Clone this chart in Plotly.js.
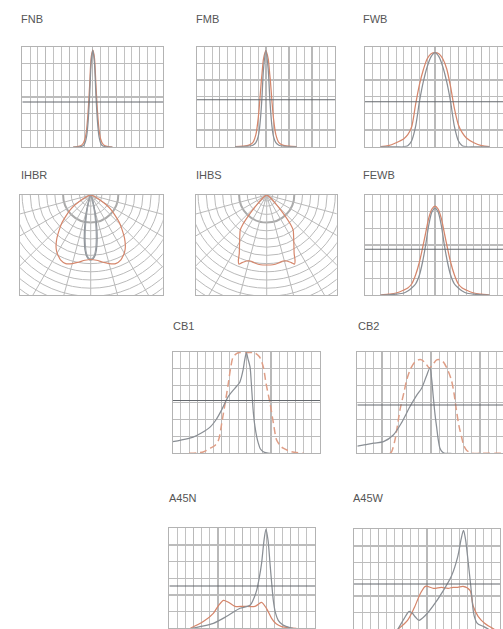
<!DOCTYPE html>
<html><head><meta charset="utf-8">
<script src="https://cdn.plot.ly/plotly-3.0.1.min.js"></script>
<style>html,body{margin:0;padding:0;background:#fff;}#chart{width:503px;height:629px;}</style>
</head><body><div id="chart"></div>
<script>
// ---------- DATA (relative intensity vs angle in degrees) ----------
const panelNames = ["FNB","FMB","FWB","IHBR","IHBS","FEWB","CB1","CB2","A45N","A45W"];

const fnbAngle  = [-25,-20,-15,-12,-10,-8,-6,-4,-2,0,2,4,6,8,10,12,15,20,25];
const fnbGray   = [0,0,0.005,0.015,0.04,0.1,0.25,0.52,0.85,0.97,0.85,0.52,0.25,0.1,0.04,0.015,0.005,0,0];
const fnbOrange = [0,0.004,0.015,0.04,0.08,0.17,0.35,0.62,0.9,0.97,0.9,0.62,0.35,0.17,0.08,0.04,0.015,0.004,0];

const fmbAngle  = [-40,-30,-22,-17,-13,-10,-8,-6,-5,-3,0,3,5,6,8,10,13,17,22,30,40];
const fmbGray   = [0,0,0.005,0.015,0.04,0.1,0.2,0.38,0.5,0.78,0.96,0.78,0.5,0.38,0.2,0.1,0.04,0.015,0.005,0,0];
const fmbOrange = [0,0.005,0.015,0.04,0.12,0.28,0.45,0.65,0.73,0.88,0.96,0.88,0.73,0.65,0.45,0.28,0.12,0.04,0.015,0.005,0];

const fwbAngle  = [-70,-60,-50,-40,-35,-30,-25,-20,-15,-10,-5,0,5,10,15,20,25,30,35,40,50,60,70];
const fwbGray   = [0,0,0,0,0.01,0.06,0.2,0.45,0.65,0.8,0.9,0.94,0.9,0.8,0.65,0.45,0.2,0.06,0.01,0,0,0,0];
const fwbOrange = [0,0.01,0.04,0.08,0.12,0.2,0.42,0.62,0.77,0.88,0.93,0.94,0.93,0.88,0.78,0.6,0.38,0.22,0.14,0.09,0.04,0.01,0];

const fewbAngle  = [-70,-60,-50,-40,-35,-30,-25,-20,-16,-12,-8,-4,0,4,8,12,16,20,25,30,35,40,50,60,70];
const fewbGray   = [0,0.002,0.008,0.02,0.04,0.07,0.11,0.2,0.33,0.5,0.7,0.83,0.87,0.83,0.7,0.5,0.33,0.2,0.11,0.07,0.04,0.02,0.008,0.002,0];
const fewbOrange = [0,0.008,0.02,0.05,0.07,0.11,0.2,0.33,0.47,0.62,0.77,0.86,0.89,0.86,0.77,0.62,0.47,0.33,0.2,0.11,0.07,0.05,0.02,0.008,0];

const cb1GrayAngle   = [-90,-80,-65,-55,-44,-37,-30,-22,-14,-8,-4,-2,0,2,4.5,6,7.7,9,10.6,12.5,14.6,17,20.7,25,29];
const cb1Gray        = [0.115,0.13,0.16,0.2,0.26,0.33,0.43,0.56,0.64,0.7,0.82,0.92,0.99,0.93,0.85,0.7,0.49,0.36,0.26,0.17,0.1,0.045,0.016,0.004,0];
const cb1OrangeAngle = [-70,-60,-52,-44,-38,-34,-30,-26,-22,-19,-16,-10,0,10,16,20.7,24,29,33,37,41,45,55,70];
const cb1Orange      = [0,0.005,0.016,0.05,0.08,0.13,0.3,0.49,0.69,0.85,0.95,0.99,0.99,0.99,0.95,0.85,0.69,0.49,0.3,0.13,0.08,0.05,0.015,0];

const cb2GrayAngle   = [-90,-80,-70,-58,-46,-36,-25.6,-17.5,-11.4,-6,-1.2,1,2.8,5,6.9,9,11,14,17,25];
const cb2Gray        = [0.07,0.085,0.1,0.115,0.18,0.3,0.46,0.57,0.64,0.75,0.84,0.72,0.56,0.38,0.26,0.13,0.05,0.012,0,0];
const cb2OrangeAngle = [-50,-48,-44,-41,-37.8,-33,-29.7,-25,-19.5,-15,-11.4,-6,-2,2,7,11,15,20,25,28,31,34,37.4,40,43.5,50,60,70,80,90];
const cb2Orange      = [0,0.016,0.13,0.27,0.43,0.6,0.72,0.83,0.9,0.92,0.92,0.88,0.84,0.87,0.92,0.92,0.9,0.83,0.72,0.6,0.43,0.28,0.16,0.08,0.03,0,0,0,0,0];

const a45nGrayAngle   = [-62,-52,-35.6,-19,-2.7,9.7,14,17.9,21,24,27,29.4,32,34.4,36.5,38.5,41,44.6,50,55,63];
const a45nGray        = [0,0.017,0.05,0.12,0.2,0.23,0.29,0.38,0.5,0.65,0.88,0.99,0.88,0.65,0.45,0.28,0.16,0.08,0.035,0.017,0];
const a45nOrangeAngle = [-64,-48,-35.6,-29,-23,-17,-8.8,1.4,15.8,20,24,30,36.4,42,48.8,58,67];
const a45nOrange      = [0,0.067,0.15,0.23,0.28,0.26,0.22,0.22,0.22,0.24,0.26,0.2,0.1,0.045,0.017,0.005,0];

const a45wGrayAngle   = [-36,-28,-22,-18,-14,-9.8,-1.9,8,20.3,30,38,42,45,47.5,50,54,58,62,70,76];
const a45wGray        = [0,0.11,0.18,0.16,0.12,0.09,0.14,0.24,0.39,0.53,0.73,0.9,0.99,0.9,0.73,0.43,0.14,0.06,0.027,0];
const a45wOrangeAngle = [-36,-24,-16,-8,-1.9,8,18,26,32,38,44.5,53,57,63,71,83];
const a45wOrange      = [0,0.09,0.21,0.36,0.43,0.41,0.42,0.41,0.42,0.42,0.43,0.39,0.23,0.13,0.06,0];

// polar (angle from nadir in degrees, intensity in diagram units)
const ihbrAngle   = [-90,-80,-75,-70,-66,-62,-58,-54,-50,-46,-42,-38,-34,-31,-28,-25,-20,-15,-10,-5,0,5,10,15,20,25,28,31,34,38,42,46,50,54,58,62,66,70,75,80,90];
const ihbrOrange  = [0,0.4,1.2,3,6,11,18,25.6,32,40,47,55,62,66,69,71.5,73,71,68,65.5,64.5,65.5,68,71,73,71.5,69,66,62,55,47,40,32,25.6,18,11,6,3,1.2,0.4,0];
const ihbrGAngle  = [-90,-40,-30,-25,-20,-17,-14,-12,-10,-8,-6,-4,-2,0,2,4,6,8,10,12,14,17,20,25,30,40,90];
const ihbrGray1   = [0,0.2,0.8,2,5,10,18,26,36,46,55,61,64,65,64,61,55,46,36,26,18,10,5,2,0.8,0.2,0];
const ihbrGray2   = [0,0.1,0.5,1.5,3.5,7,13,20,29,40,51,59,63,64,63,59,51,40,29,20,13,7,3.5,1.5,0.5,0.1,0];

const ihbsAngle   = [-90,-70,-60,-55,-50,-46,-43,-41,-39,-37,-34,-31,-28,-25,-23.5,-22,-20,-17,-14,-10,-5,0,5,10,14,17,20,22,23.5,25,28,31,34,37,39,41,43,46,50,55,60,70,90];
const ihbsOrange  = [0,0.5,1.5,3.5,7,13,21,29,38,44,48,52.5,58,65,71,74.5,72,69,68,69,70,70,70,69,68,69,72,74.5,71,65,58,52.5,48,44,38,29,21,13,7,3.5,1.5,0.5,0];

// ---------- LAYOUT CONFIG ----------
const W = 503, H = 629;
const GRAY = '#8a8f95', ORANGE = '#d5866b', ORANGE_D = '#df9e86';
const panels = [
  {name:'FNB',  kind:'cart',  l:22.3, r:163.3, t:47,   b:147,   dark:0.45,  tx:20,    ty:18.5},
  {name:'FMB',  kind:'cart',  l:196.7,r:335,   t:46.7, b:146.7, dark:0.47,  tx:195,   ty:18.5},
  {name:'FWB',  kind:'cart',  l:365,  r:505,   t:46.7, b:146.7, dark:0.45,  tx:361.5, ty:18.5},
  {name:'IHBR', kind:'polar', l:20,   r:162.7, t:195,  b:295,   ox:90.7,   tx:20,    ty:175},
  {name:'IHBS', kind:'polar', l:196,  r:336.7, t:195,  b:295,   ox:266.7,  tx:195,   ty:175},
  {name:'FEWB', kind:'cart',  l:365,  r:505,   t:195,  b:295,   dark:0.457, tx:361.5, ty:175},
  {name:'CB1',  kind:'cart',  l:172.7,r:320,   t:351.7,b:453.3, dark:0.52,  tx:171.5, ty:325.5},
  {name:'CB2',  kind:'cart',  l:357.3,r:504.6, t:351.7,b:453.3, dark:0.475, tx:356.5, ty:325.5},
  {name:'A45N', kind:'cart',  l:169.3,r:315,   t:528.3,b:628.3, dark:0.423, tx:168,   ty:498},
  {name:'A45W', kind:'cart',  l:354,  r:500,   t:529.3,b:629.3, dark:0.453, tx:351.5, ty:498}
];

const series = {
  FNB:  [{x:fnbAngle,y:fnbOrange,c:ORANGE},{x:fnbAngle,y:fnbGray,c:GRAY}],
  FMB:  [{x:fmbAngle,y:fmbOrange,c:ORANGE},{x:fmbAngle,y:fmbGray,c:GRAY}],
  FWB:  [{x:fwbAngle,y:fwbOrange,c:ORANGE},{x:fwbAngle,y:fwbGray,c:GRAY}],
  FEWB: [{x:fewbAngle,y:fewbOrange,c:ORANGE},{x:fewbAngle,y:fewbGray,c:GRAY}],
  CB1:  [{x:cb1OrangeAngle,y:cb1Orange,c:ORANGE_D,dash:'7px,4px'},{x:cb1GrayAngle,y:cb1Gray,c:GRAY}],
  CB2:  [{x:cb2OrangeAngle,y:cb2Orange,c:ORANGE_D,dash:'7px,4px'},{x:cb2GrayAngle,y:cb2Gray,c:GRAY}],
  A45N: [{x:a45nOrangeAngle,y:a45nOrange,c:ORANGE},{x:a45nGrayAngle,y:a45nGray,c:GRAY}],
  A45W: [{x:a45wOrangeAngle,y:a45wOrange,c:ORANGE},{x:a45wGrayAngle,y:a45wGray,c:GRAY}],
  IHBR: [{a:ihbrGAngle,r:ihbrGray1,c:GRAY},{a:ihbrGAngle,r:ihbrGray2,c:'#9ca0a5'},{a:ihbrAngle,r:ihbrOrange,c:ORANGE}],
  IHBS: [{a:ihbsAngle,r:ihbsOrange,c:ORANGE}]
};

const layout = {
  width:W, height:H, margin:{l:0,r:0,t:0,b:0},
  paper_bgcolor:'#fff', plot_bgcolor:'#fff', showlegend:false,
  font:{family:'Liberation Sans, Arial, sans-serif', size:11, color:'#555'},
  annotations:[], shapes:[]
};
const traces = [];
const clamp01 = v => Math.max(0, Math.min(1, v));

panels.forEach((p, i) => {
  const n = i + 1, sx = n === 1 ? '' : String(n);
  const xd = [clamp01(p.l / W), clamp01(p.r / W)];
  const yd = [clamp01(1 - p.b / H), clamp01(1 - p.t / H)];
  const common = {showticklabels:false, ticks:'', zeroline:false, showline:true, mirror:true,
                  linecolor:'#b3b3b3', linewidth:1, fixedrange:true};
  if (p.kind === 'cart') {
    layout['xaxis' + sx] = Object.assign({}, common, {domain:xd, anchor:'y' + sx,
      range:[-90, -90 + 180 * (xd[1] * W - p.l) / (p.r - p.l)],
      tick0:0, dtick:30, showgrid:true, gridcolor:'#b9b9b9', gridwidth:1.3,
      minor:{tick0:0, dtick:10, showgrid:true, gridcolor:'#c2c2c2', gridwidth:1}});
    layout['yaxis' + sx] = Object.assign({}, common, {domain:yd, anchor:'x' + sx,
      range:[0, 1], tick0:0, dtick:1/6,
      showgrid:true, gridcolor:'#bcbcbc', gridwidth:1.3});
    if (yd[0] === 0 && p.b > H) {
      layout['yaxis' + sx].range = [(p.b - H) / (p.b - p.t), 1];
    }
    layout.shapes.push({type:'line', xref:'x' + sx, yref:'y' + sx, x0:-90, x1:90, y0:p.dark, y1:p.dark,
      line:{color:'#63676c', width:1.1}, layer:'above'});
    series[p.name].forEach(s => traces.push({type:'scatter', mode:'lines', x:s.x, y:s.y,
      xaxis:'x' + sx, yaxis:'y' + sx, hoverinfo:'skip',
      line:{color:s.c, width:s.dash ? 1.5 : 1.25, shape:'spline', smoothing:0.8, dash:s.dash || 'solid'}}));
  } else {
    layout['xaxis' + sx] = Object.assign({}, common, {domain:xd, anchor:'y' + sx,
      range:[p.l - p.ox, p.r - p.ox], showgrid:false});
    layout['yaxis' + sx] = Object.assign({}, common, {domain:yd, anchor:'x' + sx,
      range:[-(p.b - p.t), 0], showgrid:false});
    for (let k = 1; k <= 15; k++) {
      const rr = 3 + 8.2 * k;
      layout.shapes.push({type:'circle', xref:'x' + sx, yref:'y' + sx, x0:-rr, x1:rr, y0:-rr, y1:rr,
        line:{color: k === 3 ? '#aaaaaa' : '#bababa', width: k === 3 ? 2 : 1}, layer:'below'});
    }
    layout.shapes.push({type:'circle', xref:'x' + sx, yref:'y' + sx, x0:-6, x1:6, y0:-6, y1:6,
      line:{color:'#bcbcbc', width:1}, layer:'below'});
    for (let a = -75; a <= 75; a += 15) {
      const rad = a * Math.PI / 180;
      layout.shapes.push({type:'line', xref:'x' + sx, yref:'y' + sx, x0:0, y0:0,
        x1:220 * Math.sin(rad), y1:-220 * Math.cos(rad), line:{color:'#bababa', width:1}, layer:'below'});
    }
    series[p.name].forEach(s => {
      const xs = s.a.map((a, j) => s.r[j] * Math.sin(a * Math.PI / 180));
      const ys = s.a.map((a, j) => -s.r[j] * Math.cos(a * Math.PI / 180));
      traces.push({type:'scatter', mode:'lines', x:xs, y:ys, xaxis:'x' + sx, yaxis:'y' + sx,
        hoverinfo:'skip', line:{color:s.c, width:1.2, shape:'spline', smoothing:0.8}});
    });
  }
  layout.annotations.push({text:p.name, xref:'paper', yref:'paper', x:p.tx / W, y:1 - p.ty / H,
    xanchor:'left', yanchor:'middle', showarrow:false, borderpad:0,
    font:{family:'Liberation Sans, Arial, sans-serif', size:11, color:'#555'}});
});

Plotly.newPlot('chart', traces, layout, {staticPlot:true, displayModeBar:false});
</script></body></html>
